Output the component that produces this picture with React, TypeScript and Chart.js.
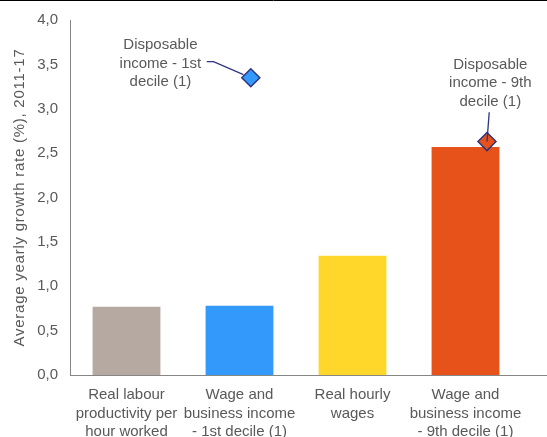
import React, { useEffect, useRef } from "react";
import { Chart, registerables } from "chart.js";

Chart.register(...registerables);

// ---- data ----
const categories: string[][] = [
  ["Real labour", "productivity per", "hour worked"],
  ["Wage and", "business income", "- 1st decile (1)"],
  ["Real hourly", "wages"],
  ["Wage and", "business income", "- 9th decile (1)"],
];
const barValues = [0.77, 0.78, 1.345, 2.57];
const barColors = ["#b5a9a2", "#3399fb", "#ffd629", "#e6521a"];

const diamondLabels: string[][] = [
  ["Disposable", "income - 1st", "decile (1)"],
  ["Disposable", "income - 9th", "decile (1)"],
];
const diamondX = [1.6, 3.69];
const diamondY = [3.35, 2.63];
const diamondColors = ["#3399fb", "#e6521a"];

// annotation label anchors (in data units of hidden linear x axis & y axis)
const labelX = [0.8, 3.72];
const labelY = [3.51, 3.29];
const leaderStartX = [1.21, 3.71];
const leaderStartY = [3.53, 2.96];
const leaderElbowX = [1.27, 3.71];
const leaderElbowY = [3.53, 2.96];
const leaderEndGap = [8, 0];

const yMin = 0;
const yMax = 4;
const yStep = 0.5;
const yTitle = "Average yearly growth rate (%), 2011-17";

const TEXT = "#595959";
const AXIS = "#868686";
const LEADER = "#2e3580";
const FONT = "'Liberation Sans', Arial, sans-serif";

const annotationPlugin = {
  id: "annotations",
  afterDatasetsDraw(chart: any) {
    const ctx = chart.ctx;
    const xs = chart.scales.xs;
    const y = chart.scales.y;
    ctx.save();
    // leader lines
    ctx.strokeStyle = LEADER;
    ctx.lineWidth = 1.3;
    for (let i = 0; i < diamondX.length; i++) {
      const sx = xs.getPixelForValue(leaderStartX[i]);
      const sy = y.getPixelForValue(leaderStartY[i]);
      const ex0 = xs.getPixelForValue(leaderElbowX[i]);
      const ey0 = y.getPixelForValue(leaderElbowY[i]);
      const px = xs.getPixelForValue(diamondX[i]);
      const py = y.getPixelForValue(diamondY[i]);
      const dx = px - ex0;
      const dy = py - ey0;
      const len = Math.sqrt(dx * dx + dy * dy) || 1;
      const ex = px - (dx / len) * leaderEndGap[i];
      const ey = py - (dy / len) * leaderEndGap[i];
      ctx.beginPath();
      ctx.moveTo(sx, sy);
      ctx.lineTo(ex0, ey0);
      ctx.lineTo(ex, ey);
      ctx.stroke();
    }
    // labels
    ctx.fillStyle = TEXT;
    ctx.font = `15px ${FONT}`;
    ctx.textAlign = "center";
    ctx.textBaseline = "middle";
    const lh = 18.5;
    for (let i = 0; i < diamondLabels.length; i++) {
      const cx = xs.getPixelForValue(labelX[i]);
      const cy = y.getPixelForValue(labelY[i]);
      const lines = diamondLabels[i];
      const start = cy - ((lines.length - 1) * lh) / 2;
      lines.forEach((t, j) => ctx.fillText(t, cx, start + j * lh));
    }
    ctx.restore();
  },
  afterDraw(chart: any) {
    const ctx = chart.ctx;
    const area = chart.chartArea;
    ctx.save();
    // extend x axis line to the right edge
    ctx.strokeStyle = AXIS;
    ctx.lineWidth = 1;
    ctx.beginPath();
    ctx.moveTo(area.right, Math.round(area.bottom) + 0.5);
    ctx.lineTo(chart.width, Math.round(area.bottom) + 0.5);
    ctx.stroke();
    // y axis title (with slight letter spacing as in the original)
    ctx.fillStyle = TEXT;
    ctx.font = `15px ${FONT}`;
    (ctx as any).letterSpacing = "0.75px";
    ctx.textAlign = "center";
    ctx.textBaseline = "middle";
    ctx.translate(20, (area.top + area.bottom) / 2);
    ctx.rotate(-Math.PI / 2);
    ctx.fillText(yTitle, 0, 0);
    ctx.setTransform(1, 0, 0, 1, 0, 0);
    (ctx as any).letterSpacing = "0px";
    // top border
    ctx.strokeStyle = "#000";
    ctx.beginPath();
    ctx.moveTo(0, 0.5);
    ctx.lineTo(chart.width, 0.5);
    ctx.stroke();
    ctx.restore();
  },
};

export default function App() {
  const ref = useRef<HTMLCanvasElement | null>(null);

  useEffect(() => {
    if (!ref.current) return;
    Chart.defaults.font.family = FONT;
    const chart = new Chart(ref.current, {
      type: "bar",
      data: {
        labels: categories as any,
        datasets: [
          {
            type: "scatter" as any,
            data: diamondX.map((x, i) => ({ x, y: diamondY[i] })),
            xAxisID: "xs",
            pointStyle: "rectRot",
            pointRadius: 9,
            pointHoverRadius: 9,
            backgroundColor: diamondColors,
            borderColor: LEADER,
            borderWidth: 1.5,
            order: 1,
          } as any,
          {
            type: "bar",
            data: barValues,
            backgroundColor: barColors,
            barPercentage: 0.6,
            categoryPercentage: 1,
            grouped: false,
            xAxisID: "x",
            order: 2,
          } as any,
        ],
      },
      options: {
        responsive: false,
        animation: false,
        devicePixelRatio: 1,
        layout: { padding: { top: 20, right: 25, bottom: 0, left: 0 } },
        plugins: {
          legend: { display: false },
          tooltip: { enabled: false },
        },
        scales: {
          x: {
            type: "category",
            offset: true,
            grid: { display: false, offset: true },
            border: { display: true, color: AXIS, width: 1 },
            ticks: {
              color: TEXT,
              font: { size: 15, lineHeight: 1.23 },
              padding: 3,
              maxRotation: 0,
              autoSkip: false,
            },
            afterFit: (s: any) => {
              s.height = 62;
            },
          },
          xs: {
            type: "linear",
            display: false,
            offset: false,
            grid: { offset: false },
            min: 0,
            max: 4,
          },
          y: {
            min: yMin,
            max: yMax,
            grid: { display: false },
            border: { display: true, color: AXIS, width: 1 },
            ticks: {
              stepSize: yStep,
              color: TEXT,
              font: { size: 15 },
              padding: 4,
              callback: (v: any) => Number(v).toFixed(1).replace(".", ","),
            },
            title: { display: false },
            afterFit: (s: any) => {
              s.width = 70;
            },
          },
        },
      } as any,
      plugins: [annotationPlugin],
    });
    return () => chart.destroy();
  }, []);

  return (
    <div style={{ position: "absolute", left: 0, top: 0, width: 547, height: 437, background: "#fff" }}>
      <canvas ref={ref} width={547} height={437} />
    </div>
  );
}
